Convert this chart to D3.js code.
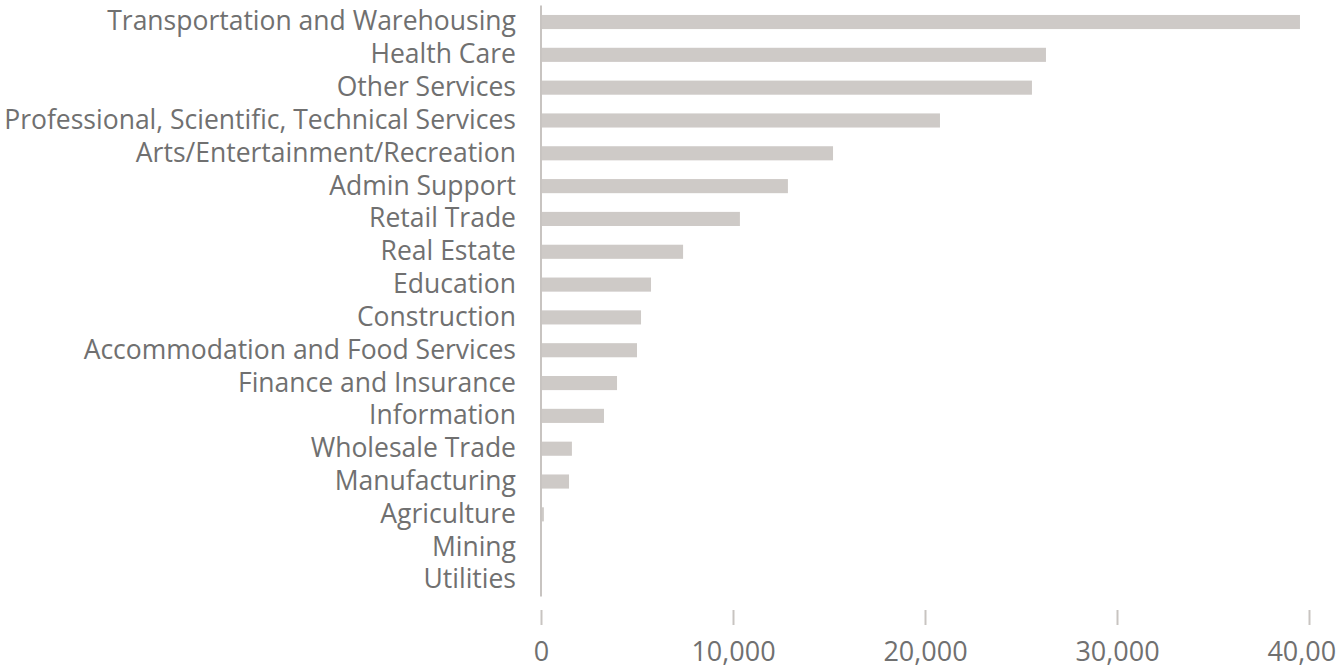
<!DOCTYPE html>
<html><head><meta charset="utf-8">
<script src="https://cdn.jsdelivr.net/npm/d3@7"></script>
<style>body{margin:0;background:#fff;overflow:hidden}text{font-family:"Open Sans",sans-serif}</style>
</head><body><svg id="c" width="1336" height="669"></svg>
<script>
const categories = ["Transportation and Warehousing","Health Care","Other Services","Professional, Scientific, Technical Services","Arts/Entertainment/Recreation","Admin Support","Retail Trade","Real Estate","Education","Construction","Accommodation and Food Services","Finance and Insurance","Information","Wholesale Trade","Manufacturing","Agriculture","Mining","Utilities"];
const values = [39530,26300,25570,20780,15210,12860,10360,7400,5730,5210,5000,3960,3280,1610,1460,150,10,5];
const ticks = [0,10000,20000,30000,40000];

const svg = d3.select("#c");
const x = d3.scaleLinear().domain([0,40000]).range([541,1309]);
const y = d3.scaleBand().domain(categories).range([5.6,596.4]).paddingInner(0.57).paddingOuter(0.285);

svg.append("g").selectAll("rect").data(categories).join("rect")
  .attr("x", x(0)).attr("y", d=>y(d))
  .attr("width", (d,i)=>Math.max(0,x(values[i])-x(0)))
  .attr("height", y.bandwidth()).attr("fill","#cecac7");

svg.append("line").attr("x1",x(0)).attr("x2",x(0)).attr("y1",5.6).attr("y2",596.4)
  .attr("stroke","#c8c4c1").attr("stroke-width",2);

const ya = d3.axisLeft(y).tickSize(0).tickPadding(25);
const gy = svg.append("g").attr("transform",`translate(${x(0)},0)`).call(ya);
gy.select(".domain").remove();
gy.selectAll("text").attr("font-size",26.5).attr("fill","#707070").style("font-family","'Open Sans'");

const xa = d3.axisBottom(x).tickValues(ticks).tickSize(15).tickPadding(17).tickFormat(d3.format(","));
const gx = svg.append("g").attr("transform","translate(0,610)").call(xa);
gx.select(".domain").remove();
gx.selectAll("line").attr("stroke","#c8c4c1").attr("stroke-width",2);
gx.selectAll("text").attr("font-size",27).attr("fill","#707070").style("font-family","'Open Sans'");
</script></body></html>
